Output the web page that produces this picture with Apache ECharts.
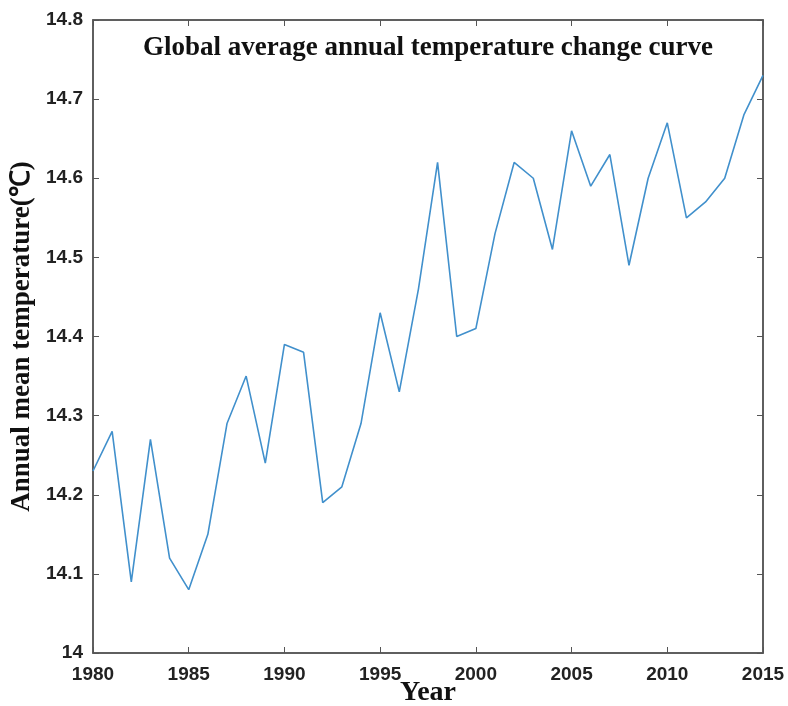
<!DOCTYPE html>
<html>
<head>
<meta charset="utf-8">
<script src="https://cdn.jsdelivr.net/npm/echarts@6/dist/echarts.min.js"></script>
<style>
  html, body { margin: 0; padding: 0; background: #fff; }
  #chart { width: 788px; height: 706px; }
</style>
</head>
<body>
<div id="chart"></div>
<script>
var years = [1980, 1981, 1982, 1983, 1984, 1985, 1986, 1987, 1988, 1989,
             1990, 1991, 1992, 1993, 1994, 1995, 1996, 1997, 1998, 1999,
             2000, 2001, 2002, 2003, 2004, 2005, 2006, 2007, 2008, 2009,
             2010, 2011, 2012, 2013, 2014, 2015];
var temps = [14.23, 14.28, 14.09, 14.27, 14.12, 14.08, 14.15, 14.29, 14.35, 14.24,
             14.39, 14.38, 14.19, 14.21, 14.29, 14.43, 14.33, 14.46, 14.62, 14.40,
             14.41, 14.53, 14.62, 14.60, 14.51, 14.66, 14.59, 14.63, 14.49, 14.60,
             14.67, 14.55, 14.57, 14.60, 14.68, 14.73];

var points = [];
for (var i = 0; i < years.length; i++) {
    points.push([years[i], temps[i]]);
}

var axisColor = '#555';
var tickFont = { fontFamily: 'Liberation Sans', fontWeight: 'bold', fontSize: 19, color: '#222' };

var chart = echarts.init(document.getElementById('chart'));
chart.setOption({
    animation: false,
    title: {
        text: 'Global average annual temperature change curve',
        left: 423,
        textAlign: 'center',
        top: 30,
        textStyle: {
            fontFamily: 'Liberation Serif',
            fontWeight: 'bold',
            fontSize: 27,
            color: '#111'
        }
    },
    grid: {
        left: 93, right: 25, top: 20, bottom: 53,
        outerBoundsMode: 'none',
        containLabel: false,
        show: true,
        borderColor: axisColor,
        borderWidth: 1.5,
        backgroundColor: '#fff'
    },
    xAxis: [{
        type: 'value',
        min: 1980, max: 2015, interval: 5,
        position: 'bottom',
        name: 'Year',
        nameLocation: 'middle',
        nameGap: 26,
        nameMoveOverlap: false,
        nameTextStyle: { fontFamily: 'Liberation Serif', fontWeight: 'bold', fontSize: 28, color: '#111' },
        axisLine: { show: true, lineStyle: { color: axisColor, width: 1.5 } },
        axisTick: { show: true, inside: true, length: 6, lineStyle: { color: axisColor } },
        axisLabel: Object.assign({
            margin: 12,
            formatter: function (v) { return String(v); }
        }, tickFont),
        splitLine: { show: false }
    }, {
        type: 'value',
        min: 1980, max: 2015, interval: 5,
        position: 'top',
        axisLine: { show: true, lineStyle: { color: axisColor, width: 1.5 } },
        axisTick: { show: true, inside: true, length: 6, lineStyle: { color: axisColor } },
        axisLabel: { show: false },
        splitLine: { show: false }
    }],
    yAxis: [{
        type: 'value',
        min: 14, max: 14.8, interval: 0.1,
        position: 'left',
        name: 'Annual mean temperature(℃)',
        nameLocation: 'middle',
        nameGap: 57,
        nameMoveOverlap: false,
        nameTextStyle: { fontFamily: 'Liberation Serif', fontWeight: 'bold', fontSize: 27, color: '#111' },
        axisLine: { show: true, lineStyle: { color: axisColor, width: 1.5 } },
        axisTick: { show: true, inside: true, length: 6, lineStyle: { color: axisColor } },
        axisLabel: Object.assign({
            margin: 10,
            formatter: function (v) { return String(Math.round(v * 10) / 10); }
        }, tickFont),
        splitLine: { show: false }
    }, {
        type: 'value',
        min: 14, max: 14.8, interval: 0.1,
        position: 'right',
        axisLine: { show: true, lineStyle: { color: axisColor, width: 1.5 } },
        axisTick: { show: true, inside: true, length: 6, lineStyle: { color: axisColor } },
        axisLabel: { show: false },
        splitLine: { show: false }
    }],
    series: [{
        name: 'Temperature',
        type: 'line',
        xAxisIndex: 0,
        yAxisIndex: 0,
        data: points,
        symbol: 'none',
        lineStyle: { color: '#4190cc', width: 1.6 }
    }]
});
</script>
</body>
</html>
